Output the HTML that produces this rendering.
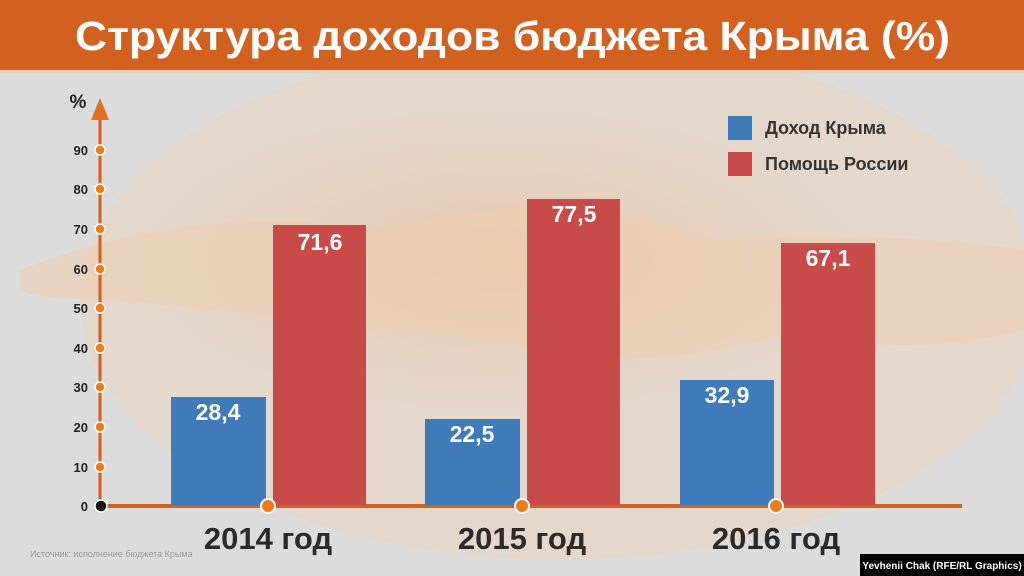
<!DOCTYPE html>
<html><head><meta charset="utf-8"><style>
body{margin:0;width:1024px;height:576px;overflow:hidden;background:#dedede;font-family:"Liberation Sans","DejaVu Sans",sans-serif}
</style></head><body>
<svg width="1024" height="576" viewBox="0 0 1024 576" xmlns="http://www.w3.org/2000/svg" style="position:absolute;left:0;top:0">
<defs><radialGradient id="g" cx="0.5" cy="0.5" r="0.5"><stop offset="0" stop-color="#e9c6a8"/><stop offset="1" stop-color="#e9d3c0" stop-opacity="0"/></radialGradient></defs>
<rect width="1024" height="576" fill="#dcdcdc"/>
<ellipse cx="560" cy="300" rx="480" ry="260" fill="#e6d6c8" opacity="0.8"/>
<ellipse cx="500" cy="260" rx="380" ry="160" fill="url(#g)"/>
<path d="M20 270 Q200 200 380 230 Q560 180 720 240 Q880 230 1024 250 L1024 330 Q900 360 800 330 Q640 380 500 340 Q300 320 120 300 Q40 300 20 290Z" fill="#efcfb0" opacity="0.6"/>
<rect x="0" y="0" width="1024" height="70" fill="#d2601e"/>
<rect x="0" y="70" width="1024" height="3" fill="#e8d0c0"/>
<text x="75" y="50" textLength="875" lengthAdjust="spacingAndGlyphs" font-size="41" font-weight="bold" fill="#fff">Структура доходов бюджета Крыма (%)</text>
<line x1="100" y1="506" x2="100" y2="118" stroke="#d2601e" stroke-width="3"/>
<polygon points="100,98 91,120 109,120" fill="#e2701e"/>
<text x="78" y="108" text-anchor="middle" font-size="19" font-weight="bold" fill="#222">%</text>
<line x1="100" y1="506" x2="962" y2="506" stroke="#d2601e" stroke-width="4"/>
<g font-size="13" font-weight="bold" fill="#222" text-anchor="end">
<text x="88" y="511">0</text><text x="88" y="472">10</text><text x="88" y="432">20</text><text x="88" y="392">30</text><text x="88" y="353">40</text><text x="88" y="313">50</text><text x="88" y="274">60</text><text x="88" y="234">70</text><text x="88" y="194">80</text><text x="88" y="155">90</text>
</g>
<g fill="#f07a1a" stroke="#fff" stroke-width="1.5">
<circle cx="100" cy="467" r="5"/><circle cx="100" cy="427" r="5"/><circle cx="100" cy="387" r="5"/><circle cx="100" cy="348" r="5"/><circle cx="100" cy="308" r="5"/><circle cx="100" cy="269" r="5"/><circle cx="100" cy="229" r="5"/><circle cx="100" cy="189" r="5"/><circle cx="100" cy="150" r="5"/>
</g>
<g>
<rect x="171" y="397" width="95" height="108" fill="#3f7bbb"/>
<rect x="273" y="225" width="93" height="280" fill="#c84a49"/>
<rect x="425" y="419" width="95" height="86" fill="#3f7bbb"/>
<rect x="527" y="199" width="93" height="306" fill="#c84a49"/>
<rect x="680" y="380" width="94" height="125" fill="#3f7bbb"/>
<rect x="781" y="243" width="94" height="262" fill="#c84a49"/>
</g>
<g font-size="23" font-weight="bold" fill="#fff" text-anchor="middle">
<text x="218" y="420">28,4</text><text x="320" y="250">71,6</text>
<text x="472" y="442">22,5</text><text x="574" y="222">77,5</text>
<text x="727" y="403">32,9</text><text x="828" y="266">67,1</text>
</g>
<circle cx="101" cy="506" r="6" fill="#111" stroke="#fff" stroke-width="1.5"/>
<g fill="#f07a1a" stroke="#fff" stroke-width="2">
<circle cx="268" cy="506" r="7"/><circle cx="522" cy="506" r="7"/><circle cx="776" cy="506" r="7"/>
</g>
<g font-size="31" font-weight="bold" fill="#2a2a2a" text-anchor="middle">
<text x="268" y="549">2014 год</text><text x="522" y="549">2015 год</text><text x="776" y="549">2016 год</text>
</g>
<rect x="728" y="116" width="24" height="24" fill="#3f7bbb"/>
<rect x="728" y="152" width="24" height="24" fill="#c84a49"/>
<g font-size="18" font-weight="bold" fill="#333">
<text x="765" y="134">Доход Крыма</text><text x="765" y="170">Помощь России</text>
</g>
<text x="30" y="557" font-size="9" fill="#999">Источник: исполнение бюджета Крыма</text>
<rect x="860" y="554" width="164" height="22" fill="#000"/>
<text x="942" y="569" text-anchor="middle" font-size="10" font-weight="bold" fill="#fff">Yevhenii Chak (RFE/RL Graphics)</text>
</svg>
</body></html>
